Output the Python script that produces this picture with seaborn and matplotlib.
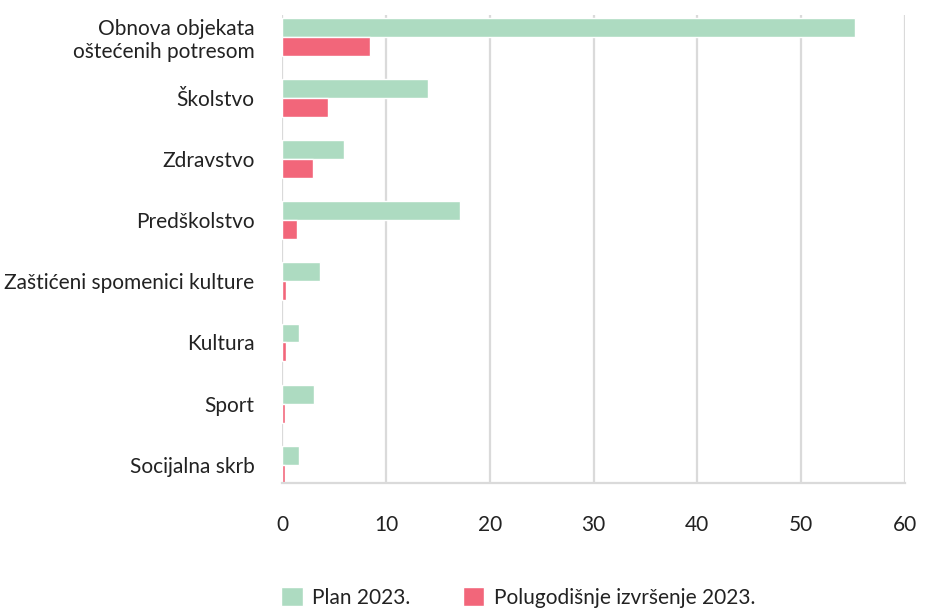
import matplotlib
matplotlib.use("Agg")
import matplotlib.pyplot as plt
import seaborn as sns
import pandas as pd

categories = [
    "Obnova objekata\noštećenih potresom",
    "Školstvo",
    "Zdravstvo",
    "Predškolstvo",
    "Zaštićeni spomenici kulture",
    "Kultura",
    "Sport",
    "Socijalna skrb",
]
plan_2023 = [55.2, 14.0, 5.95, 17.1, 3.6, 1.6, 3.05, 1.6]
izvrsenje_2023 = [8.45, 4.4, 2.95, 1.4, 0.36, 0.34, 0.25, 0.25]
series_names = ["Plan 2023.", "Polugodišnje izvršenje 2023."]
x_ticks = [0, 10, 20, 30, 40, 50, 60]

df = pd.DataFrame({
    "kategorija": categories * 2,
    "vrijednost": plan_2023 + izvrsenje_2023,
    "serija": [series_names[0]] * len(categories) + [series_names[1]] * len(categories),
})

sns.set_theme(style="white")
plt.rcParams["font.family"] = ["Lato", "DejaVu Sans"]
plt.rcParams["font.weight"] = "normal"

fig = plt.figure(figsize=(9.29, 6.10), dpi=100)
ax = fig.add_axes([282.3 / 929, 1 - 483 / 610, (904.7 - 282.3) / 929, (483 - 15) / 610])

palette = {series_names[0]: "#ADDBC1", series_names[1]: "#F2667A"}
sns.barplot(data=df, y="kategorija", x="vrijednost", hue="serija", orient="h",
            palette=palette, width=0.62, saturation=1, ax=ax, legend=True)

ax.set_xlim(0, 60)
ax.set_ylim(7.30, -0.36)
ax.set_xticks(x_ticks)
ax.set_xticklabels([str(t) for t in x_ticks])
ax.set_xlabel("")
ax.set_ylabel("")
ax.xaxis.grid(True, color="#DADADA", linewidth=1.6)
ax.yaxis.grid(False)
ax.set_axisbelow(True)
for s in ["top", "right", "left"]:
    ax.spines[s].set_visible(False)
ax.spines["bottom"].set_color("#DADADA")
ax.spines["bottom"].set_linewidth(1.6)
ax.tick_params(axis="x", length=0, pad=23, labelsize=15, labelcolor="#222222")
ax.tick_params(axis="y", length=0, pad=20, labelsize=15, labelcolor="#222222")
for lbl in ax.get_yticklabels():
    lbl.set_linespacing(1.2)

handles, labels = ax.get_legend_handles_labels()
ax.get_legend().remove()
fig.legend(handles, labels, loc="lower left", bbox_to_anchor=(281 / 929, 0.004),
           ncol=2, frameon=False, fontsize=15, handlelength=1.05, handleheight=1.05,
           handletextpad=0.45, columnspacing=2.5, labelcolor="#222222",
           borderaxespad=0, borderpad=0)

fig.savefig("out.png", dpi=100)
